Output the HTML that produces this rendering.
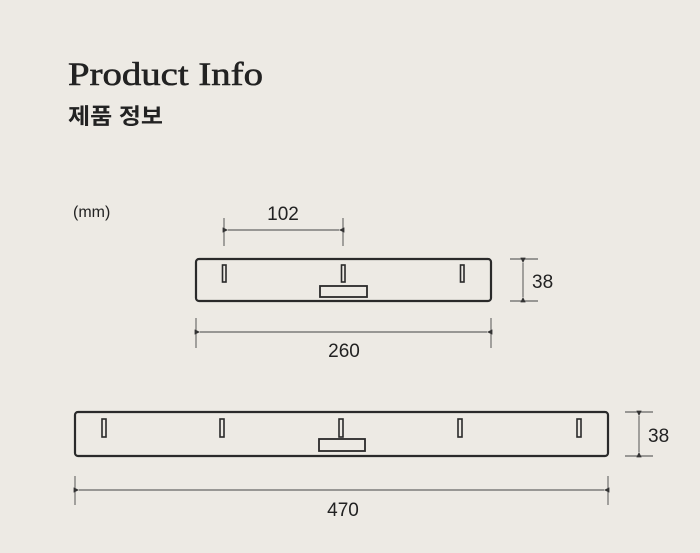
<!DOCTYPE html>
<html><head><meta charset="utf-8"><style>
html,body{margin:0;padding:0;background:#edeae4;}
svg{display:block}
</style></head><body>
<svg width="700" height="553" viewBox="0 0 700 553" xmlns="http://www.w3.org/2000/svg">
<defs>
<marker id="a" viewBox="0 0 6 6" refX="0" refY="3" markerWidth="6" markerHeight="6" orient="auto-start-reverse"><path d="M6,0 L0,3 L6,6 z" fill="#333"/></marker>
</defs>
<rect width="700" height="553" fill="#edeae4"/>
<text x="68" y="85" font-family="Liberation Serif, serif" font-size="33" fill="#222" stroke="#222" stroke-width="0.6" textLength="195" lengthAdjust="spacingAndGlyphs">Product Info</text>
<text x="68" y="124" font-family="Liberation Sans, Noto Sans CJK KR, sans-serif" font-size="22" font-weight="bold" fill="#222" textLength="95" lengthAdjust="spacingAndGlyphs">제품 정보</text>
<text x="73" y="217" font-family="Liberation Sans, sans-serif" font-size="16" fill="#222">(mm)</text>
<g font-family="Liberation Sans, sans-serif" font-size="19" fill="#222">
<text x="283" y="220" text-anchor="middle">102</text>
<text x="532" y="288">38</text>
<text x="344" y="357" text-anchor="middle">260</text>
<text x="648" y="442">38</text>
<text x="343" y="516" text-anchor="middle">470</text>
</g>
<g stroke="#444" stroke-width="0.9" fill="none">
<line x1="224" y1="218" x2="224" y2="246"/><line x1="343" y1="218" x2="343" y2="246"/>
<line x1="228" y1="230" x2="339" y2="230" marker-start="url(#a)" marker-end="url(#a)"/>
<line x1="510" y1="259" x2="538" y2="259"/><line x1="510" y1="301" x2="538" y2="301"/>
<line x1="523" y1="263" x2="523" y2="297" marker-start="url(#a)" marker-end="url(#a)"/>
<line x1="196" y1="318" x2="196" y2="348"/><line x1="491" y1="318" x2="491" y2="348"/>
<line x1="200" y1="332" x2="487" y2="332" marker-start="url(#a)" marker-end="url(#a)"/>
<line x1="625" y1="412" x2="653" y2="412"/><line x1="625" y1="456" x2="653" y2="456"/>
<line x1="639" y1="416" x2="639" y2="452" marker-start="url(#a)" marker-end="url(#a)"/>
<line x1="75" y1="476" x2="75" y2="505"/><line x1="608" y1="476" x2="608" y2="505"/>
<line x1="79" y1="490" x2="604" y2="490" marker-start="url(#a)" marker-end="url(#a)"/>
</g>
<g stroke="#2a2a2a" stroke-width="2.2" fill="none">
<rect x="196" y="259" width="295" height="42" rx="3"/>
<rect x="222.5" y="265" width="3.5" height="17" stroke-width="1.6"/>
<rect x="341.5" y="265" width="3.5" height="17" stroke-width="1.6"/>
<rect x="460.5" y="265" width="3.5" height="17" stroke-width="1.6"/>
<rect x="320" y="286" width="47" height="11" stroke-width="1.8"/>
<rect x="75" y="412" width="533" height="44" rx="3"/>
<rect x="102" y="419" width="4" height="18" stroke-width="1.6"/>
<rect x="220" y="419" width="4" height="18" stroke-width="1.6"/>
<rect x="339" y="419" width="4" height="18" stroke-width="1.6"/>
<rect x="458" y="419" width="4" height="18" stroke-width="1.6"/>
<rect x="577" y="419" width="4" height="18" stroke-width="1.6"/>
<rect x="319" y="439" width="46" height="12" stroke-width="1.8"/>
</g>
</svg>
</body></html>
